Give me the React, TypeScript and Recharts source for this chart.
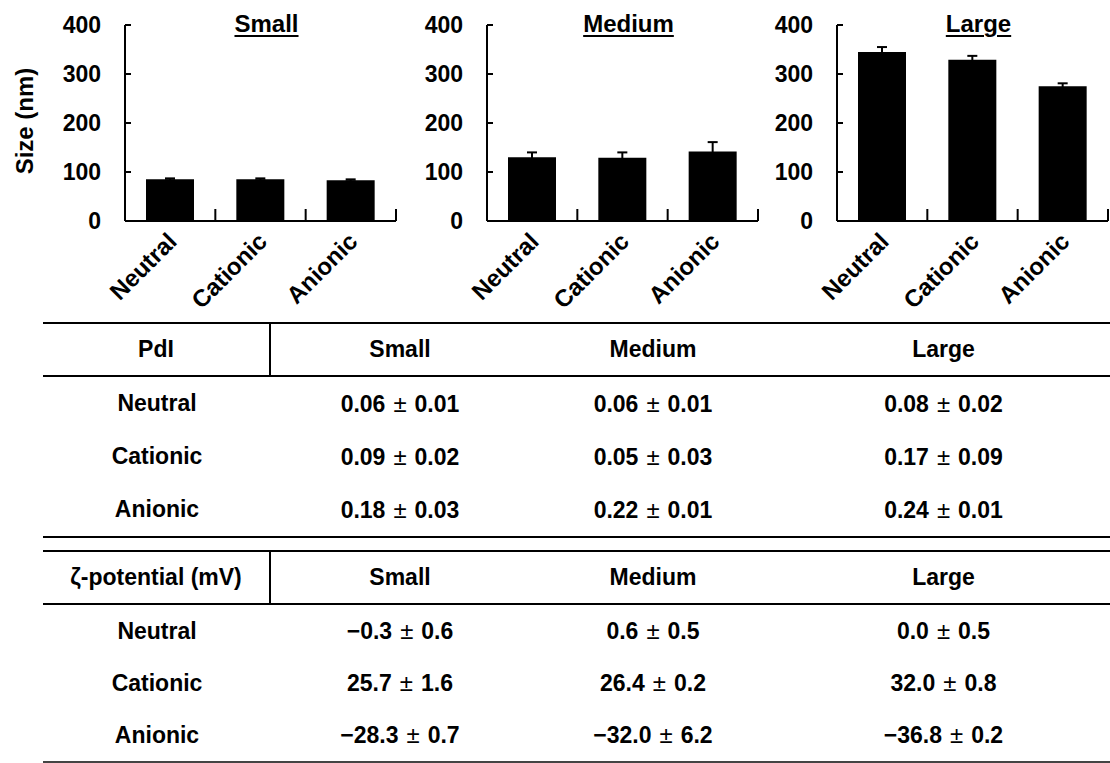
import React from "react";
import { BarChart, Bar, XAxis, YAxis, ErrorBar } from "recharts";

const categories = ["Neutral", "Cationic", "Anionic"];
const panels = ["Small", "Medium", "Large"];
const sizeTicks = [0, 100, 200, 300, 400];

// size (nm), mean and sd
const smallSize = [85, 85, 83];
const smallErr = [2, 2, 2];
const mediumSize = [130, 129, 142];
const mediumErr = [10, 11, 19];
const largeSize = [345, 329, 275];
const largeErr = [10, 8, 6];

// PdI table
const pdiSmall = [0.06, 0.09, 0.18];
const pdiSmallSd = [0.01, 0.02, 0.03];
const pdiMedium = [0.06, 0.05, 0.22];
const pdiMediumSd = [0.01, 0.03, 0.01];
const pdiLarge = [0.08, 0.17, 0.24];
const pdiLargeSd = [0.02, 0.09, 0.01];

// zeta-potential table (mV)
const zetaSmall = [-0.3, 25.7, -28.3];
const zetaSmallSd = [0.6, 1.6, 0.7];
const zetaMedium = [0.6, 26.4, -32.0];
const zetaMediumSd = [0.5, 0.2, 6.2];
const zetaLarge = [0.0, 32.0, -36.8];
const zetaLargeSd = [0.5, 0.8, 0.2];

const FONT = '"Liberation Sans", Arial, Helvetica, sans-serif';
const BAND = 271 / 3;

const toRows = (vals: number[], errs: number[]) =>
  categories.map((name, i) => ({ name, size: vals[i], err: errs[i] }));

const YTick = (props: any) => {
  const { x, y, payload } = props;
  return (
    <g>
      <line x1={x} x2={x + 6} y1={y} y2={y} stroke="#000" strokeWidth={2} />
      <text
        x={x - 24}
        y={y}
        dy={8}
        textAnchor="end"
        fontSize={23}
        fontWeight="bold"
        fontFamily={FONT}
        fill="#000"
      >
        {payload.value}
      </text>
    </g>
  );
};

const XTick = (props: any) => {
  const { x, y, payload } = props;
  const tx = x + 8;
  const ty = y + 22;
  return (
    <g>
      <line
        x1={x + BAND / 2}
        x2={x + BAND / 2}
        y1={y}
        y2={y - 12}
        stroke="#000"
        strokeWidth={2}
      />
      <text
        x={tx}
        y={ty}
        textAnchor="end"
        transform={`rotate(-45 ${tx} ${ty})`}
        fontSize={24}
        fontWeight="bold"
        fontFamily={FONT}
        fill="#000"
      >
        {payload.value}
      </text>
    </g>
  );
};

const SizeLabel = () => (
  <text
    x={33}
    y={121}
    transform="rotate(-90 33 121)"
    textAnchor="middle"
    fontSize={24}
    fontWeight="bold"
    fontFamily={FONT}
    fill="#000"
  >
    Size (nm)
  </text>
);

function SizePanel({ title, data, left, width, showLabel }: any) {
  return (
    <div style={{ position: "absolute", left, top: 0 }}>
      <div
        style={{
          position: "absolute",
          left: 125,
          width: 271,
          top: 10,
          textAlign: "center",
          fontFamily: FONT,
          fontWeight: "bold",
          fontSize: 24,
          textDecoration: "underline",
          textDecorationThickness: 2,
          textUnderlineOffset: 3,
          paddingLeft: 6,
        }}
      >
        {title}
      </div>
      <BarChart
        width={width}
        height={320}
        data={data}
        margin={{ top: 25, right: width - 396, left: 0, bottom: 20 }}
      >
        <XAxis
          dataKey="name"
          height={79}
          tickSize={0}
          tickMargin={0}
          tickLine={false}
          axisLine={{ stroke: "#000", strokeWidth: 2 }}
          tick={<XTick />}
          interval={0}
        />
        <YAxis
          width={125}
          domain={[0, 400]}
          ticks={sizeTicks}
          tickSize={0}
          tickMargin={0}
          tickLine={false}
          axisLine={{ stroke: "#000", strokeWidth: 2 }}
          tick={<YTick />}
          label={showLabel ? <SizeLabel /> : undefined}
        />
        <Bar dataKey="size" fill="#000" barSize={48} isAnimationActive={false}>
          <ErrorBar
            dataKey="err"
            direction="y"
            width={5}
            stroke="#000"
            strokeWidth={2}
          />
        </Bar>
      </BarChart>
    </div>
  );
}

const COLS = [228, 258, 248, 333];

function StatTable({ top, head, rows, rowH, headH, lastColor }: any) {
  const cell = (content: any, i: number, extra: any = {}) => (
    <div
      key={i}
      style={{
        display: "flex",
        alignItems: "center",
        justifyContent: "center",
        borderRight: i === 0 ? "2px solid #000" : "none",
        ...extra,
      }}
    >
      {content}
    </div>
  );
  return (
    <div
      style={{
        position: "absolute",
        left: 43,
        top,
        width: 1067,
        borderTop: "2px solid #000",
        borderBottom: `2px solid ${lastColor}`,
        display: "grid",
        gridTemplateColumns: COLS.map((c) => c + "px").join(" "),
        gridTemplateRows: `${headH}px repeat(3, ${rowH}px)`,
        fontFamily: FONT,
        fontWeight: "bold",
        fontSize: 23,
        color: "#000",
      }}
    >
      {[head, ...panels].map((h, i) =>
        cell(h, i, { borderBottom: "2px solid #000" })
      )}
      {rows.map((r: any[], ri: number) =>
        r.map((c, ci) => cell(c, ci + ri * 10 + 10))
      )}
    </div>
  );
}

const pm = (m: string, s: string) => (
  <span>
    {m}
    <span style={{ fontWeight: "normal", margin: "0 8px", fontSize: 24 }}>±</span>
    {s}
  </span>
);

const fmt = (v: number, d: number) => {
  const t = Math.abs(v).toFixed(d);
  return v < 0 ? "\u2212" + t : t;
};

const pdiRows = categories.map((c, i) => [
  c,
  pm(fmt(pdiSmall[i], 2), fmt(pdiSmallSd[i], 2)),
  pm(fmt(pdiMedium[i], 2), fmt(pdiMediumSd[i], 2)),
  pm(fmt(pdiLarge[i], 2), fmt(pdiLargeSd[i], 2)),
]);

const zetaRows = categories.map((c, i) => [
  c,
  pm(fmt(zetaSmall[i], 1), fmt(zetaSmallSd[i], 1)),
  pm(fmt(zetaMedium[i], 1), fmt(zetaMediumSd[i], 1)),
  pm(fmt(zetaLarge[i], 1), fmt(zetaLargeSd[i], 1)),
]);

export default function App() {
  return (
    <div
      style={{
        position: "absolute",
        left: 0,
        top: 0,
        width: 1110,
        height: 763,
        overflow: "hidden",
        background: "#fff",
      }}
    >
      <SizePanel title={panels[0]} data={toRows(smallSize, smallErr)} left={0} width={400} showLabel />
      <SizePanel title={panels[1]} data={toRows(mediumSize, mediumErr)} left={362} width={400} />
      <SizePanel title={panels[2]} data={toRows(largeSize, largeErr)} left={712} width={398} />
      <StatTable top={322} head="PdI" rows={pdiRows} headH={53} rowH={53} lastColor="#000" />
      <StatTable top={550} head="ζ-potential (mV)" rows={zetaRows} headH={53} rowH={52} lastColor="#444" />
    </div>
  );
}
